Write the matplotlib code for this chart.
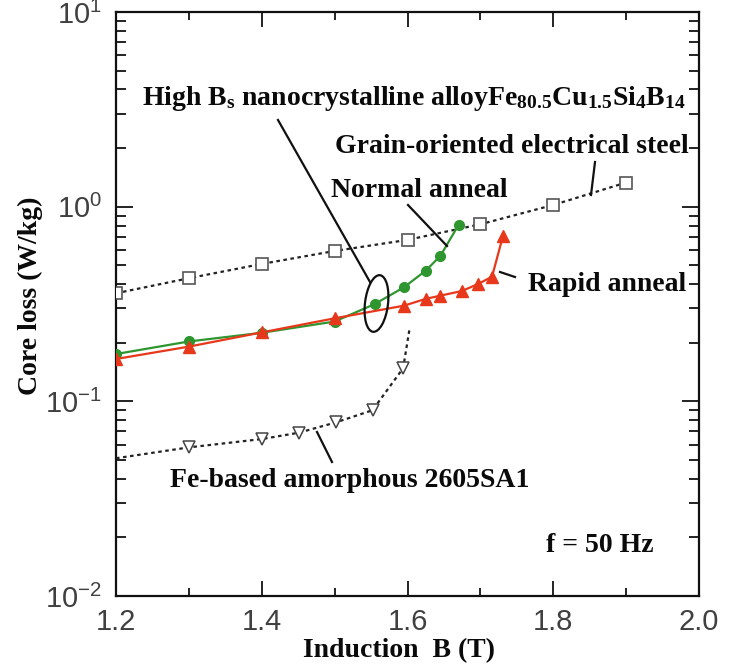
import matplotlib
matplotlib.use("Agg")
import matplotlib.pyplot as plt
from matplotlib.lines import Line2D
from matplotlib.patches import Ellipse
from matplotlib.transforms import Affine2D
from matplotlib.ticker import FixedLocator, LogLocator, NullFormatter, MultipleLocator
import numpy as np

plt.rcParams['mathtext.fontset'] = 'custom'
plt.rcParams['mathtext.rm'] = 'Liberation Serif:bold'
plt.rcParams['mathtext.bf'] = 'Liberation Serif:bold'
plt.rcParams['mathtext.it'] = 'Liberation Serif:bold'
plt.rcParams['mathtext.sf'] = 'Liberation Sans'

# ---------------- data ----------------
go_B = [1.2, 1.3, 1.4, 1.5, 1.6, 1.7, 1.8, 1.9]
go_loss = [0.359, 0.429, 0.508, 0.592, 0.675, 0.812, 1.02, 1.33]

normal_B = [1.2, 1.3, 1.4, 1.5, 1.555, 1.595, 1.625, 1.645, 1.67]
normal_loss = [0.175, 0.203, 0.225, 0.257, 0.316, 0.385, 0.469, 0.558, 0.805]

rapid_B = [1.2, 1.3, 1.4, 1.5, 1.595, 1.625, 1.645, 1.675, 1.697, 1.716, 1.731]
rapid_loss = [0.165, 0.191, 0.226, 0.267, 0.31, 0.336, 0.349, 0.369, 0.401, 0.437, 0.707]

amorph_B = [1.2, 1.3, 1.4, 1.451, 1.502, 1.552, 1.594, 1.603]
amorph_loss = [0.051, 0.058, 0.064, 0.069, 0.078, 0.09, 0.148, 0.238]

x_ticks = [1.2, 1.4, 1.6, 1.8, 2.0]
x_ticklabels = ['1.2', '1.4', '1.6', '1.8', '2.0']
y_ticks = [1e-2, 1e-1, 1e0, 1e1]
y_ticklabels = [r'$\mathsf{10^{-2}}$', r'$\mathsf{10^{-1}}$', r'$\mathsf{10^{0}}$', r'$\mathsf{10^{1}}$']

W, H = 735, 670
fig = plt.figure(figsize=(W / 100, H / 100), dpi=100)
ax = fig.add_axes([116 / W, 1 - 596 / H, (699 - 116) / W, (596 - 12) / H])

ax.set_yscale('log')
ax.set_xlim(1.2, 2.0)
ax.set_ylim(1e-2, 1e1)

dot = (0, (1.6, 1.6))
ax.plot(go_B, go_loss, linestyle=dot, color='#222222', lw=1.6, marker='s', ms=8.5,
        mfc='white', mec='#555555', mew=1.2, zorder=3)
ax.plot(amorph_B, amorph_loss, linestyle=dot, color='#222222', lw=1.6, marker='v', ms=8,
        mfc='white', mec='#444444', mew=1.1, markevery=list(range(1, len(amorph_B) - 1)), zorder=3)
ax.plot(normal_B, normal_loss, '-', color='#2f962f', lw=1.6, marker='o', ms=7,
        mfc='#2f962f', mec='#2f962f', zorder=4)
ax.plot(rapid_B, rapid_loss, '-', color='#e8381c', lw=1.6, marker='^', ms=8,
        mfc='#e8381c', mec='#e8381c', zorder=5)

# ticks
ax.xaxis.set_major_locator(FixedLocator(x_ticks))
ax.set_xticklabels(x_ticklabels)
ax.xaxis.set_minor_locator(MultipleLocator(0.1))
ax.yaxis.set_major_locator(FixedLocator(y_ticks))
ax.set_yticklabels(y_ticklabels)
ax.yaxis.set_minor_locator(LogLocator(base=10, subs=np.arange(2, 10)))
ax.yaxis.set_minor_formatter(NullFormatter())
ax.tick_params(axis='both', which='both', direction='in', top=True, right=True,
               width=1.3, colors='#111111', labelcolor='#404040')
ax.tick_params(axis='x', which='major', length=11, pad=9, labelsize=21)
ax.tick_params(axis='x', which='minor', length=6)
ax.tick_params(axis='y', which='major', length=12, pad=10, labelsize=21)
ax.tick_params(axis='y', which='minor', length=7)
for t in ax.get_xticklabels() + ax.get_yticklabels():
    t.set_family('Liberation Sans')
for s in ax.spines.values():
    s.set_linewidth(1.6)
    s.set_color('#111111')

# ---------------- texts (pixel positions) ----------------
def fx(x):
    return x / W

def fy(y):
    return 1 - y / H

serif = dict(family='Liberation Serif', weight='bold', color='#0a0a0a', fontsize=20)

fig.text(fx(142), fy(105), r'High B$_\mathrm{s}$ nanocrystalline alloyFe$_{\mathrm{80.5}}$Cu$_{\mathrm{1.5}}$Si$_\mathrm{4}$B$_{\mathrm{14}}$',
         ha='left', va='baseline', **serif)
fig.text(fx(689), fy(153), 'Grain-oriented electrical steel', ha='right', va='baseline', **serif)
fig.text(fx(508), fy(197), 'Normal anneal', ha='right', va='baseline', **serif)
fig.text(fx(528), fy(291), 'Rapid anneal', ha='left', va='baseline', **serif)
fig.text(fx(170), fy(487), 'Fe-based amorphous 2605SA1', ha='left', va='baseline', **serif)
fig.text(fx(546), fy(552), 'f = 50 Hz', ha='left', va='baseline', **serif)
fig.text(fx(303), fy(657), 'Induction  B (T)', ha='left', va='baseline', **serif)
fig.text(fx(30), fy(296), 'Core loss (W/kg)', ha='center', va='center', rotation=90, **serif)

# leader lines
leaders = [((278, 120), (370, 282)),
           ((408, 205), (447, 246)),
           ((595, 162), (591, 195)),
           ((500, 272), (515, 277)),
           ((317, 432), (332, 462))]
for (x0, y0), (x1, y1) in leaders:
    fig.add_artist(Line2D([fx(x0), fx(x1)], [fy(y0), fy(y1)], color='#111111', lw=1.6,
                          transform=fig.transFigure))

pix = Affine2D().scale(1 / W, 1 / H) + fig.transFigure
ell = Ellipse((376.5, H - 303.5), 23, 57, angle=-7, fill=False, ec='#111111', lw=1.6,
              transform=pix)
fig.add_artist(ell)

fig.savefig('out.png', dpi=100)
